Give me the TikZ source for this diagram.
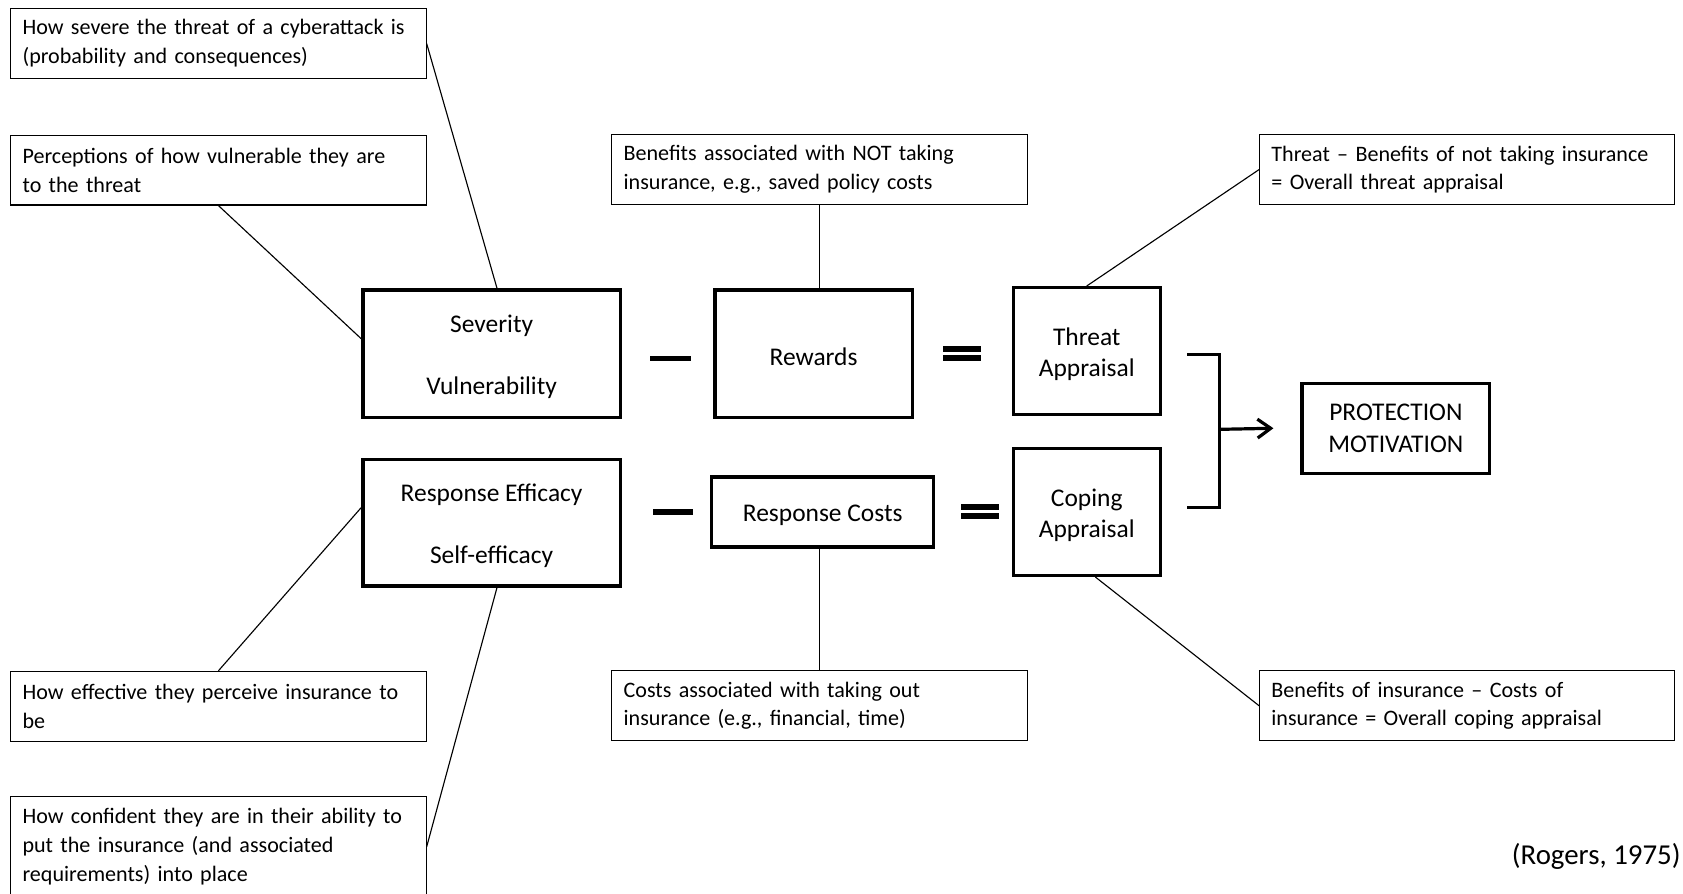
\documentclass[tikz,border=0pt]{standalone}
\usepackage{fontspec}
\setmainfont{Carlito}
\usetikzlibrary{arrows.meta}

\newcommand{\tstrut}{\rule{0pt}{12.6pt}}

\tikzset{
  note/.style={draw, line width=0.6pt, text width=7.3cm, align=left,
    minimum height=1.3cm, inner xsep=0.22cm, inner ysep=0pt,
    font=\fontsize{11.7}{15.3}\selectfont},
  stage/.style={draw, line width=1.8pt, align=center, inner sep=0pt,
    font=\fontsize{13.5}{16.5}\selectfont},
  opbar/.style={fill=black, inner sep=0pt, minimum width=0.76cm, minimum height=0.11cm},
  link/.style={line width=0.6pt},
}

\begin{document}
\begin{tikzpicture}[>=Latex, x=0.02cm, y=-0.02cm]
          \useasboundingbox (0,0) rectangle (1568,832);

          % left column: notes
          \node[note] (severe) at (203.5,40.5) {How severe the threat of a cyberattack is\\(probability and consequences)};
          \node[note] (vulner) at (203.5,158.5) {Perceptions of how vulnerable they are\\to the threat};
          \node[note] (effect) at (203.5,658) {How effective they perceive insurance to\\be};
          \node[note, minimum height=1.88cm] (confid) at (203.5,789) {How confident they are in their ability to\\put the insurance (and associated\\requirements) into place};

          % middle and right: notes
          \node[note] (benefit) at (763.5,158) {Benefits associated with NOT taking\\insurance, e.g., saved policy costs};
          \node[note] (costnote) at (763.5,657.5) {Costs associated with taking out\\insurance (e.g., financial, time)};
          \node[note] (threatnote) at (1367,158) {Threat – Benefits of not taking insurance\\= Overall threat appraisal};
          \node[note] (copingnote) at (1367,657.5) {Benefits of insurance – Costs of\\insurance = Overall coping appraisal};

          % top row: threat
          \node[stage, minimum width=4.8cm, minimum height=2.38cm] (sev) at (458,329.5) {\tstrut Severity\\[16pt]Vulnerability};
          \node[opbar] (minus1) at (625,334) {};
          \node[stage, minimum width=3.68cm, minimum height=2.38cm] (rewards) at (758,329.5) {\tstrut Rewards};
          \node[opbar, minimum width=0.7cm] (eq1a) at (896,325) {};
          \node[opbar, minimum width=0.7cm] (eq1b) at (896,333.5) {};
          \node[stage, minimum width=2.74cm, minimum height=2.36cm] (threat) at (1012.5,327) {\tstrut Threat\\Appraisal};

          % bottom row: coping
          \node[stage, minimum width=4.8cm, minimum height=2.36cm] (eff) at (458,487) {\tstrut Response Efficacy\\[16pt]Self-efficacy};
          \node[opbar] (minus2) at (627,477) {};
          \node[stage, minimum width=4.14cm, minimum height=1.3cm] (costs) at (766.5,477) {\tstrut Response Costs};
          \node[opbar, minimum width=0.7cm] (eq2a) at (913,472.5) {};
          \node[opbar, minimum width=0.7cm] (eq2b) at (913,481) {};
          \node[stage, minimum width=2.74cm, minimum height=2.36cm] (coping) at (1012.5,477) {\tstrut Coping\\Appraisal};

          % result
          \node[stage, minimum width=3.5cm, minimum height=1.68cm] (protect) at (1300.5,399) {PROTECTION\\MOTIVATION};

          % bracket and arrow
          \coordinate (brtop) at (1106,330);
          \coordinate (brbot) at (1106,473);
          \coordinate (brmid) at (1136,400);
          \draw[line width=1.8pt] (brtop) -| (brmid) |- (brbot);
          \draw[line width=1.7pt, -{Straight Barb[length=7pt,width=10pt]}] (brmid) -- ([xshift=-0.5cm]protect.west);

          % note lines
          \draw[link] (severe.east) -- ([xshift=0.1cm]sev.north);
          \draw[link] (vulner.south) -- ([yshift=0.28cm]sev.west);
          \draw[link] (effect.north) -- ([yshift=0.28cm]eff.west);
          \draw[link] (confid.east) -- ([xshift=0.1cm]eff.south);
          \draw[link] (benefit.south) -- (benefit.south |- rewards.north);
          \draw[link] (costnote.north) -- (costnote.north |- costs.south);
          \draw[link] (threatnote.west) -- (threat.north);
          \draw[link] ([xshift=0.16cm]coping.south) -- (copingnote.west);

          % source
          \node[anchor=east, inner sep=0pt, font=\fontsize{15.3}{18}\selectfont] (cite) at (1566,798) {(Rogers, 1975)};
        \end{tikzpicture}
\end{document}
